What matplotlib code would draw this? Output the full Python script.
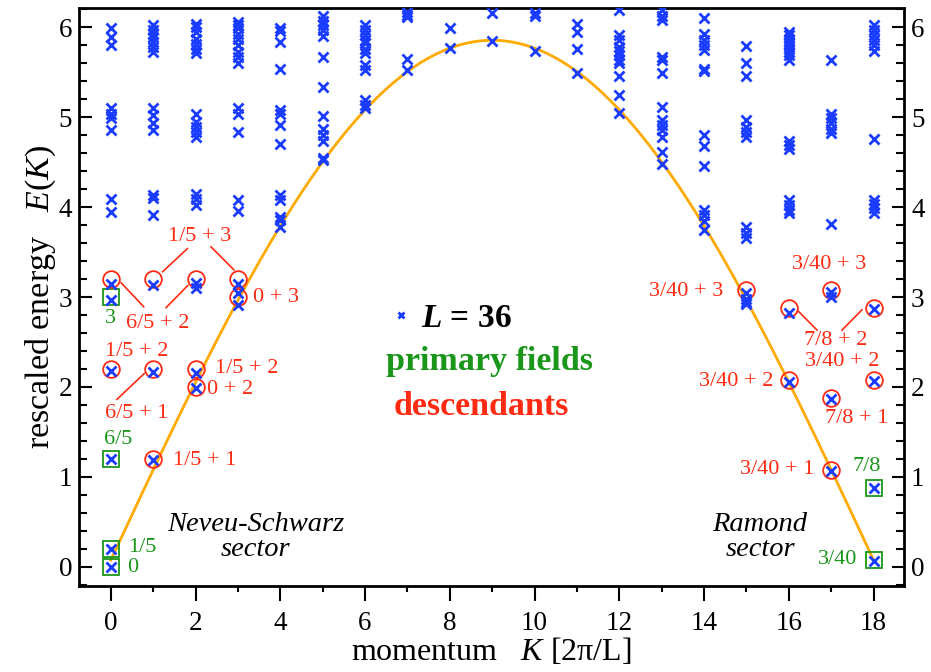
import matplotlib
matplotlib.use('Agg')
import matplotlib.pyplot as plt
from matplotlib.lines import Line2D
from matplotlib.ticker import MultipleLocator
import numpy as np

plt.rcParams['font.family'] = ['Liberation Serif', 'DejaVu Serif']
plt.rcParams['mathtext.fontset'] = 'custom'
plt.rcParams['mathtext.rm'] = 'Liberation Serif'
plt.rcParams['mathtext.it'] = 'Liberation Serif:italic'
plt.rcParams['mathtext.bf'] = 'Liberation Serif:bold'
plt.rcParams['mathtext.bfit'] = 'Liberation Serif:italic:bold'

# numerical spectrum, L = 36 : energies per momentum K = 0..18
momenta = list(range(19))
spectrum = [
    [5.99, 5.89, 5.80, 5.10, 5.04, 4.99, 4.86, 4.09, 3.95, 3.15, 2.97, 2.18, 1.20, 0.20, 0.00],
    [6.02, 5.97, 5.93, 5.89, 5.84, 5.78, 5.73, 5.10, 5.02, 4.93, 4.86, 4.13, 4.10, 3.91, 3.13, 2.17, 1.19],
    [6.04, 6.00, 5.95, 5.87, 5.81, 5.76, 5.71, 5.04, 4.95, 4.89, 4.84, 4.78, 4.14, 4.09, 4.02, 3.16, 3.10, 2.16, 1.99],
    [6.06, 6.02, 5.99, 5.93, 5.87, 5.80, 5.73, 5.67, 5.60, 5.10, 5.04, 4.84, 4.08, 3.96, 3.15, 3.04, 2.91],
    [5.99, 5.96, 5.84, 5.53, 5.08, 5.04, 4.91, 4.70, 4.13, 4.08, 3.89, 3.86, 3.78],
    [6.12, 6.07, 6.02, 5.97, 5.90, 5.67, 5.34, 5.01, 4.87, 4.80, 4.74, 4.55, 4.52],
    [6.02, 5.97, 5.91, 5.86, 5.82, 5.76, 5.71, 5.58, 5.52, 5.19, 5.14, 5.10],
    [6.17, 6.14, 6.11, 5.65, 5.52],
    [5.99, 5.77],
    [6.16, 5.85],
    [6.16, 6.12, 5.74],
    [6.04, 5.95, 5.76, 5.49],
    [6.19, 5.91, 5.86, 5.78, 5.74, 5.69, 5.63, 5.60, 5.46, 5.25, 5.05],
    [6.19, 6.13, 6.08, 5.67, 5.63, 5.49, 5.11, 4.97, 4.91, 4.86, 4.78, 4.61, 4.48],
    [6.10, 5.93, 5.86, 5.80, 5.75, 5.54, 5.51, 4.80, 4.68, 4.46, 3.97, 3.91, 3.84, 3.74],
    [5.79, 5.60, 5.46, 4.97, 4.89, 4.84, 4.78, 3.78, 3.71, 3.66, 3.04, 2.98, 2.95, 2.92],
    [5.95, 5.91, 5.87, 5.84, 5.80, 5.76, 5.73, 5.69, 5.63, 4.73, 4.69, 4.65, 4.08, 4.02, 3.97, 3.93, 2.82, 2.05],
    [5.63, 5.04, 4.99, 4.93, 4.87, 4.82, 3.81, 3.06, 3.00, 1.87, 1.07],
    [6.02, 5.97, 5.91, 5.86, 5.80, 5.74, 4.76, 4.08, 4.03, 3.99, 3.93, 2.87, 2.07, 0.875, 0.07],
]

# CFT predictions
primary_K = [0, 0, 0, 0, 18, 18]
primary_E = [0.0, 0.2, 1.2, 3.0, 0.075, 0.875]
desc_K = [0, 1, 2, 3, 3, 0, 1, 2, 2, 1, 15, 17, 16, 18, 16, 18, 17, 17]
desc_E = [3.2, 3.2, 3.2, 3.2, 3.0, 2.2, 2.2, 2.2, 2.0, 1.2,
          3.075, 3.075, 2.875, 2.875, 2.075, 2.075, 1.875, 1.075]

# dispersion curve parameters
L = 36
amp = 5.78
offset = 0.075

blue = '#1a3cff'
red = '#ff2a12'
green = '#1a961a'
orange = '#ffaa00'

fig = plt.figure(figsize=(9.31, 6.72), dpi=100)
ax = fig.add_axes([0.0849, 0.1284, 0.8862, 0.8592])

kk = np.linspace(0, 18, 300)
ax.plot(kk, amp * np.sin(2 * np.pi * kk / L) + offset, color=orange, lw=2, zorder=1)

for k, levels in zip(momenta, spectrum):
    ax.plot([k] * len(levels), levels, ls='none', marker='x', ms=7, mew=2,
            color=blue, zorder=3)

ax.plot(primary_K, primary_E, ls='none', marker='s', ms=11, mfc='none',
        mec=green, mew=1.3, zorder=2)
ax.plot(desc_K, desc_E, ls='none', marker='o', ms=12, mfc='none',
        mec=red, mew=1.3, zorder=2)

fs = 16
# Neveu-Schwarz labels
ax.text(2.1, 3.67, '1/5 + 3', color=red, fontsize=fs, ha='center', va='center')
ax.text(1.1, 2.71, '6/5 + 2', color=red, fontsize=fs, ha='center', va='center')
ax.text(0.6, 2.39, '1/5 + 2', color=red, fontsize=fs, ha='center', va='center')
ax.text(0.6, 1.71, '6/5 + 1', color=red, fontsize=fs, ha='center', va='center')
ax.text(2.47, 2.2, '1/5 + 2', color=red, fontsize=fs, ha='left', va='center')
ax.text(2.28, 1.97, '0 + 2', color=red, fontsize=fs, ha='left', va='center')
ax.text(3.36, 2.99, '0 + 3', color=red, fontsize=fs, ha='left', va='center')
ax.text(1.46, 1.18, '1/5 + 1', color=red, fontsize=fs, ha='left', va='center')
ax.text(-0.02, 2.76, '3', color=green, fontsize=fs, ha='center', va='center')
ax.text(0.17, 1.42, '6/5', color=green, fontsize=fs, ha='center', va='center')
ax.text(0.41, 0.22, '1/5', color=green, fontsize=fs, ha='left', va='center')
ax.text(0.39, -0.01, '0', color=green, fontsize=fs, ha='left', va='center')

# Ramond labels
ax.text(14.46, 3.06, '3/40 + 3', color=red, fontsize=fs, ha='right', va='center')
ax.text(16.95, 3.36, '3/40 + 3', color=red, fontsize=fs, ha='center', va='center')
ax.text(17.10, 2.52, '7/8 + 2', color=red, fontsize=fs, ha='center', va='center')
ax.text(17.25, 2.28, '3/40 + 2', color=red, fontsize=fs, ha='center', va='center')
ax.text(15.64, 2.06, '3/40 + 2', color=red, fontsize=fs, ha='right', va='center')
ax.text(17.59, 1.65, '7/8 + 1', color=red, fontsize=fs, ha='center', va='center')
ax.text(16.6, 1.08, '3/40 + 1', color=red, fontsize=fs, ha='right', va='center')
ax.text(17.83, 1.12, '7/8', color=green, fontsize=fs, ha='center', va='center')
ax.text(17.61, 0.08, '3/40', color=green, fontsize=fs, ha='right', va='center')

# leader lines
leaders = [((1.22, 3.28), (1.81, 3.54)), ((2.36, 3.56), (2.91, 3.30)),
           ((0.24, 3.16), (0.78, 2.89)), ((1.30, 2.88), (1.82, 3.13)),
           ((0.14, 1.86), (0.79, 2.15)),
           ((16.23, 2.84), (16.67, 2.63)), ((17.25, 2.63), (17.73, 2.86))]
for a, b in leaders:
    ax.annotate('', xy=b, xytext=a,
                arrowprops=dict(arrowstyle='-', color=red, lw=1.2,
                                shrinkA=0, shrinkB=0))

ax.text(3.42, 0.33, 'Neveu-Schwarz\nsector', fontsize=20.5, style='italic',
        ha='center', va='center', multialignment='center', linespacing=1.0)
ax.text(15.32, 0.33, 'Ramond\nsector', fontsize=20.5, style='italic',
        ha='center', va='center', multialignment='center', linespacing=1.0)

# legend
h = Line2D([], [], ls='none', marker='x', ms=5, mew=2, color=blue)
leg = ax.legend([h], [r'$\mathbfit{L}$ = 36'], loc='center',
                bbox_to_anchor=(0.447, 0.463), frameon=False,
                prop=dict(size=24, weight='bold'), handletextpad=0.1,
                handlelength=1.0)
ax.text(0.498, 0.389, 'primary fields', transform=ax.transAxes, color=green,
        fontsize=24.5, weight='bold', ha='center', va='center')
ax.text(0.487, 0.311, 'descendants', transform=ax.transAxes, color=red,
        fontsize=24.5, weight='bold', ha='center', va='center')

ax.set_xlim(-0.75, 18.72)
ax.set_ylim(-0.21, 6.21)
ax.xaxis.set_major_locator(MultipleLocator(2))
ax.xaxis.set_minor_locator(MultipleLocator(1))
ax.yaxis.set_major_locator(MultipleLocator(1))
ax.yaxis.set_minor_locator(MultipleLocator(0.2))
ax.tick_params(axis='x', which='both', direction='out', top=False,
               labelsize=19.5, width=1.5, pad=7)
ax.tick_params(axis='x', which='major', length=11)
ax.tick_params(axis='x', which='minor', length=4.5)
ax.tick_params(axis='y', which='both', direction='in', left=True, right=True,
               labelleft=True, labelright=True, labelsize=19.5, width=1.5, pad=5)
ax.tick_params(axis='y', which='major', length=9)
ax.tick_params(axis='y', which='minor', length=6)
for s in ax.spines.values():
    s.set_linewidth(2)

ax.set_xlabel(r'momentum   $K$ [2π/L]', fontsize=23, labelpad=0)
ax.set_ylabel(r'rescaled energy   $E(K)$', fontsize=24.5, labelpad=0)

fig.savefig('out.png', dpi=100)
